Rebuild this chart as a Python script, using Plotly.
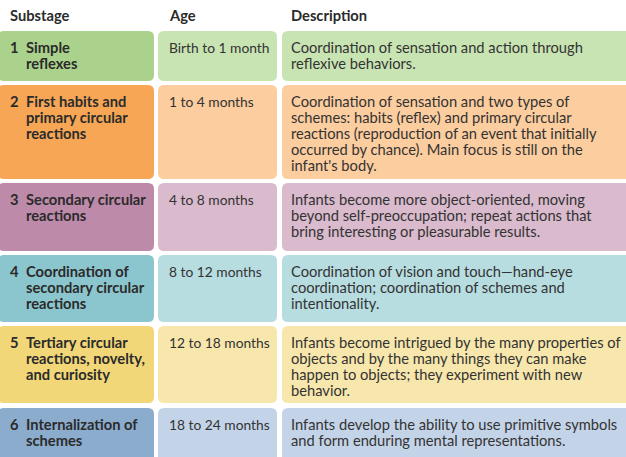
import plotly.graph_objects as go

# table content, as wrapped in the reference
headers = ["Substage", "Age", "Description"]
numbers = ["1", "2", "3", "4", "5", "6"]
substages = [
    ["Simple", "reflexes"],
    ["First habits and", "primary circular", "reactions"],
    ["Secondary circular", "reactions"],
    ["Coordination of", "secondary circular", "reactions"],
    ["Tertiary circular", "reactions, novelty,", "and curiosity"],
    ["Internalization of", "schemes"],
]
ages = ["Birth to 1 month", "1 to 4 months", "4 to 8 months",
        "8 to 12 months", "12 to 18 months", "18 to 24 months"]
descriptions = [
    ["Coordination of sensation and action through",
     "reflexive behaviors."],
    ["Coordination of sensation and two types of",
     "schemes: habits (reflex) and primary circular",
     "reactions (reproduction of an event that initially",
     "occurred by chance). Main focus is still on the",
     "infant's body."],
    ["Infants become more object-oriented, moving",
     "beyond self-preoccupation; repeat actions that",
     "bring interesting or pleasurable results."],
    ["Coordination of vision and touch\u2014hand-eye",
     "coordination; coordination of schemes and",
     "intentionality."],
    ["Infants become intrigued by the many properties of",
     "objects and by the many things they can make",
     "happen to objects; they experiment with new",
     "behavior."],
    ["Infants develop the ability to use primitive symbols",
     "and form enduring mental representations."],
]

# styling / layout
dark_colors = ["#aad28c", "#f6a655", "#be8aaa", "#8bc6ce", "#f2d778", "#8cacce"]
light_colors = ["#c8e4b2", "#fccd9e", "#dabacd", "#b7dde1", "#f8e7ac", "#c4d4e8"]
row_edges = [(31, 81), (85, 179), (183, 251), (255, 322), (326, 403), (408, 475)]
col_edges = [(-2, 154), (158, 277), (282, 640)]
text_x = [24, 167, 289]   # annotations add ~2px padding
num_x = 8
line_h = 16
first_off = 16
FONT = "Lato"
TXT = "#333333"


def rounded(x0, y0, x1, y1, r=6):
    return (f"M {x0+r},{y0} L {x1-r},{y0} Q {x1},{y0} {x1},{y0+r} "
            f"L {x1},{y1-r} Q {x1},{y1} {x1-r},{y1} L {x0+r},{y1} "
            f"Q {x0},{y1} {x0},{y1-r} L {x0},{y0+r} Q {x0},{y0} {x0+r},{y0} Z")


fig = go.Figure()
shapes = []
annotations = []


def add_text(x, y, s, bold=False, size=14.7):
    annotations.append(dict(
        x=x, y=y, xref="x", yref="y", text=f"<b>{s}</b>" if bold else s,
        showarrow=False, xanchor="left", yanchor="middle",
        font=dict(family=FONT, size=size, color="#2b2b2b" if bold else TXT)))


for hx, h in zip([num_x, text_x[1], text_x[2]], headers):
    add_text(hx, 15, h, bold=True)

for i, (y0, y1) in enumerate(row_edges):
    for j, (x0, x1) in enumerate(col_edges):
        color = dark_colors[i] if j == 0 else light_colors[i]
        shapes.append(dict(type="path", path=rounded(x0, y0, x1, y1),
                           xref="x", yref="y", fillcolor=color,
                           line=dict(width=0), layer="below"))
    ty = y0 + first_off
    add_text(num_x, ty, numbers[i], bold=True)
    for k, line in enumerate(substages[i]):
        add_text(text_x[0], ty + k * line_h, line, bold=True)
    add_text(text_x[1], ty, ages[i], size=13.8)
    for k, line in enumerate(descriptions[i]):
        add_text(text_x[2], ty + k * line_h, line)

fig.update_layout(
    width=626, height=457,
    margin=dict(l=0, r=0, t=0, b=0),
    paper_bgcolor="white", plot_bgcolor="white",
    xaxis=dict(range=[0, 626], visible=False, fixedrange=True),
    yaxis=dict(range=[457, 0], visible=False, fixedrange=True),
    shapes=shapes, annotations=annotations,
    showlegend=False,
)

# page body has a default 8px margin; drop it so the figure sits at the corner
fig.write_html("out.html", config={"displayModeBar": False},
               post_script="document.body.style.margin='0';")
